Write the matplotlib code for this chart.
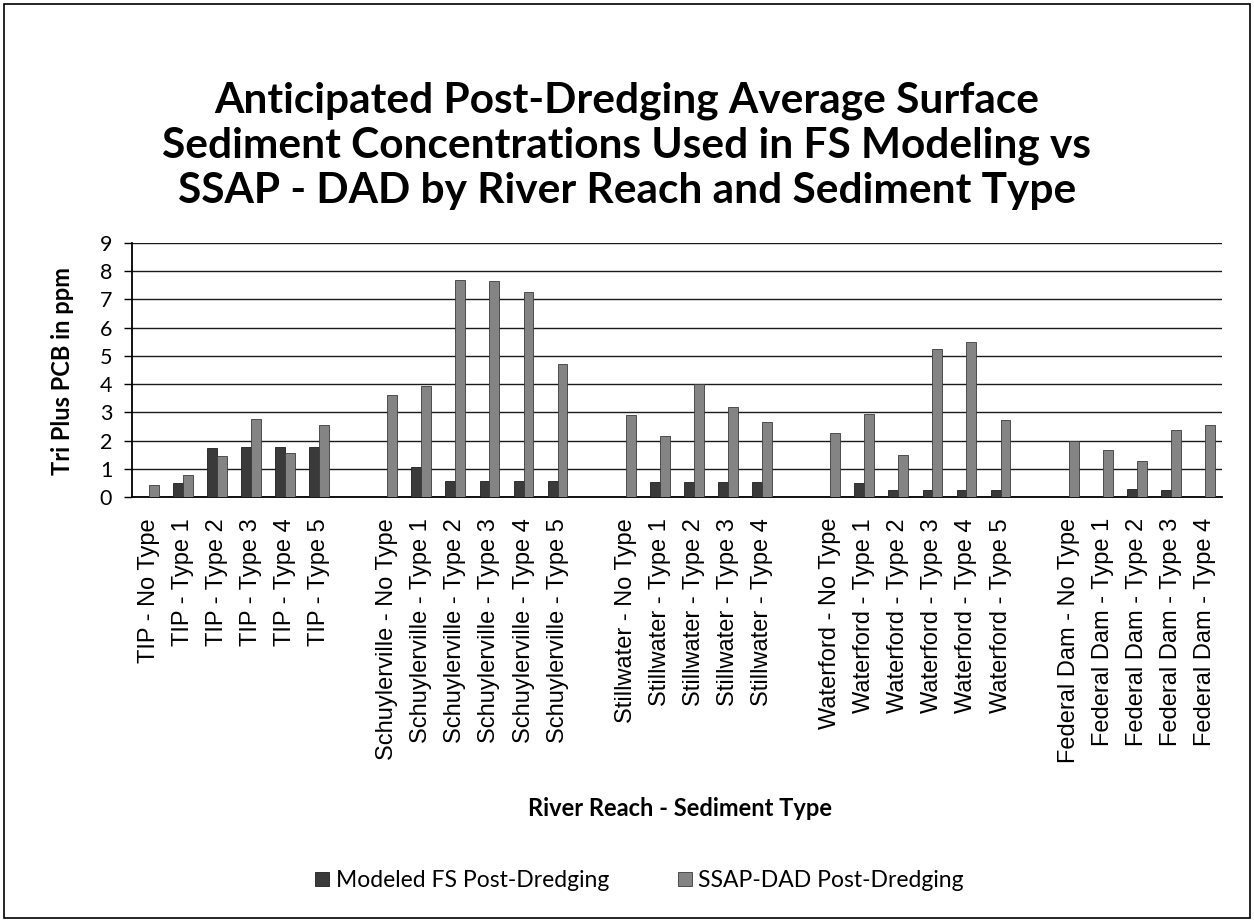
import numpy as np
import matplotlib.pyplot as plt
from matplotlib.patches import Rectangle

# categories (blank entries are the gaps between river reaches)
labels = [
    "TIP - No Type", "TIP - Type 1", "TIP - Type 2", "TIP - Type 3", "TIP - Type 4", "TIP - Type 5",
    "",
    "Schuylerville - No Type", "Schuylerville - Type 1", "Schuylerville - Type 2",
    "Schuylerville - Type 3", "Schuylerville - Type 4", "Schuylerville - Type 5",
    "",
    "Stillwater - No Type", "Stillwater - Type 1", "Stillwater - Type 2",
    "Stillwater - Type 3", "Stillwater - Type 4",
    "",
    "Waterford - No Type", "Waterford - Type 1", "Waterford - Type 2",
    "Waterford - Type 3", "Waterford - Type 4", "Waterford - Type 5",
    "",
    "Federal Dam - No Type", "Federal Dam - Type 1", "Federal Dam - Type 2",
    "Federal Dam - Type 3", "Federal Dam - Type 4",
]

modeled_fs = [
    0, 0.50, 1.75, 1.78, 1.78, 1.78,
    0,
    0, 1.05, 0.57, 0.57, 0.57, 0.57,
    0,
    0, 0.55, 0.55, 0.55, 0.55,
    0,
    0, 0.50, 0.25, 0.25, 0.25, 0.25,
    0,
    0, 0, 0.30, 0.26, 0,
]

ssap_dad = [
    0.44, 0.77, 1.47, 2.77, 1.57, 2.55,
    0,
    3.60, 3.95, 7.68, 7.65, 7.28, 4.72,
    0,
    2.92, 2.15, 4.02, 3.20, 2.65,
    0,
    2.27, 2.95, 1.48, 5.25, 5.50, 2.72,
    0,
    1.98, 1.68, 1.29, 2.36, 2.56,
]

series_names = ["Modeled FS Post-Dredging", "SSAP-DAD Post-Dredging"]
yticks = range(0, 10)

fig = plt.figure(figsize=(12.54, 9.24), dpi=100)
ax = fig.add_axes([0.105, 0.462, 0.8695, 0.275])

x = np.arange(len(labels))
w = 0.29
ax.bar(x - w/2, modeled_fs, width=w, color='#3a3a3a', edgecolor='#1e1e1e', linewidth=0.6,
       label=series_names[0], zorder=3)
ax.bar(x + w/2, ssap_dad, width=w, color='#848484', edgecolor='#3a3a3a', linewidth=0.6,
       label=series_names[1], zorder=3)

ax.set_xlim(-0.5, len(labels) - 0.5)
ax.set_ylim(0, 9)
ax.set_yticks(yticks)
ax.yaxis.grid(True, color='#1a1a1a', linewidth=1.0, zorder=0)
ax.tick_params(axis='y', length=6, width=1, direction='out', labelsize=15.5, pad=8)
for t in ax.get_yticklabels():
    t.set_family('Lato')

ax.set_xticks(x)
ax.set_xticklabels(labels, rotation=90, family='Liberation Sans', fontsize=17)
ax.tick_params(axis='x', length=0, pad=15)

for s in ['top', 'right']:
    ax.spines[s].set_visible(False)
ax.spines['left'].set_linewidth(1.3)
ax.spines['bottom'].set_linewidth(1.3)

fig.text(0.5, 0.842,
         "Anticipated Post-Dredging Average Surface\n"
         "Sediment Concentrations Used in FS Modeling vs\n"
         "SSAP - DAD by River Reach and Sediment Type",
         ha='center', va='center', fontsize=30.5, fontweight='bold', family='Lato',
         linespacing=1.22)
fig.text(0.05, 0.598, "Tri Plus PCB in ppm", rotation=90, ha='center', va='center',
         fontsize=17, fontweight='bold', family='Lato')
fig.text(0.542, 0.125, "River Reach - Sediment Type", ha='center', va='center',
         fontsize=17, fontweight='bold', family='Lato')

fig.legend(loc='center', bbox_to_anchor=(0.51, 0.047), ncol=2, frameon=False,
           prop={'family': 'Lato', 'size': 16.5}, handlelength=0.6, handleheight=0.6,
           handletextpad=0.3, columnspacing=3.0)

fig.patches.append(Rectangle((0.003, 0.006), 0.994, 0.99, transform=fig.transFigure,
                             fill=False, edgecolor='black', linewidth=1.2))

fig.savefig("out.png", dpi=100)
